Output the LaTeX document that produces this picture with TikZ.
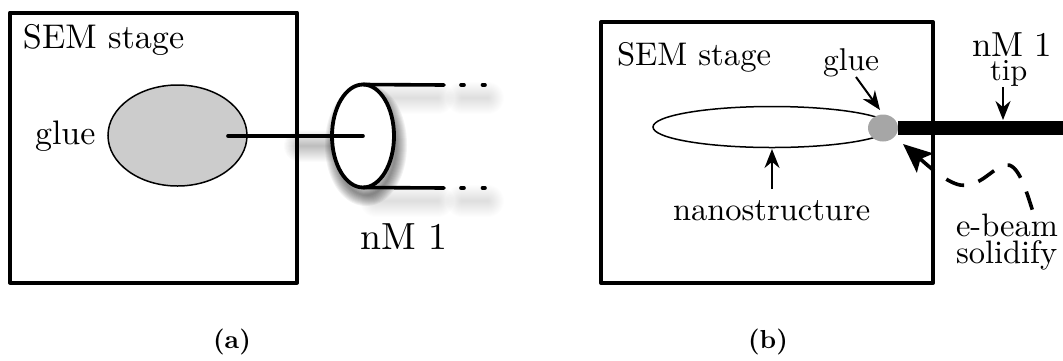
\documentclass[tikz,border=0pt]{standalone}
\usetikzlibrary{arrows.meta,shapes.geometric}
\newcommand{\softshadow}[1]{%
  \foreach \w in {2,4,...,32}{\draw[black,opacity=0.009,line width=\w pt,line cap=round] #1;}}
\tikzset{
  boxframe/.style={draw=black,line width=4pt,fill=none,line join=round,outer sep=0pt},
  probe/.style={draw=black,line width=3.6pt,line cap=round},
  txt/.style={inner sep=0pt,outer sep=0pt,anchor=base west},
  pointer/.style={draw=black,line width=2pt,-{Stealth[length=19pt,width=15pt]}},
}
\begin{document}
\begin{tikzpicture}[x=1pt,y=-1pt]
\useasboundingbox (0,0) rectangle (1063,360);
% (a)
\node[boxframe,minimum width=287pt,minimum height=270pt,inner sep=0pt] (boxa) at (153.5,147.5) {};
\node[txt,scale=3.42] (sema) at (23,48) {SEM stage};
\node[txt,scale=3.4] (gluea) at (35,144) {glue};
\node[draw=black,line width=1.5pt,fill=black!20,ellipse,inner sep=0pt,outer sep=0pt,minimum width=139pt,minimum height=101pt] (blob) at (177.5,135.5) {};
\softshadow{(300,146) -- (330,146)}
\softshadow{(300,146) -- (330,146)}
\softshadow{(376,98) -- (438,98)}
\softshadow{(376,201) -- (438,201)}
\softshadow{(462,98) -- (488,98)}
\softshadow{(462,201) -- (488,201)}
\foreach \w in {2,4,...,22}{\draw[black,opacity=0.05,line width=\w pt] (366,145) ellipse [x radius=30,y radius=50];}
\node[draw=black,line width=3.8pt,fill=white,ellipse,inner sep=0pt,outer sep=0pt,minimum width=62pt,minimum height=103pt] (ring) at (363,136) {};
\coordinate (ringc) at (363,136);
\coordinate (blobc) at (228,136);
\coordinate (ta1) at (444,85);
\coordinate (tb1) at (444,188);
\coordinate (ta2) at (461,85);
\coordinate (ta3) at (485,85);
\coordinate (tb2) at (461,188);
\coordinate (tb3) at (485,188);
\draw[probe] (blobc) -- (ringc);
\draw[probe] (ring.north) -- (ta1);
\draw[probe] (ring.south) -- (tb1);
\draw[probe,dash pattern=on 3pt off 18.5pt] (ta2) -- (ta3);
\draw[probe,dash pattern=on 3pt off 18.5pt] (tb2) -- (tb3);
\node[txt,scale=3.78] (nma) at (360,249) {nM 1};
\node[scale=2.6,font=\bfseries] (capa) at (232,342) {(a)};
% (b)
\node[boxframe,minimum width=332pt,minimum height=261pt,inner sep=0pt] (boxb) at (767,152.5) {};
\node[txt,scale=3.27] (semb) at (617,65) {SEM stage};
\node[draw=black,line width=1.5pt,fill=white,ellipse,inner sep=0pt,outer sep=0pt,minimum width=238pt,minimum height=41pt] (nano) at (772,127) {};
\node[draw=none,fill=black!35,ellipse,inner sep=0pt,outer sep=0pt,minimum width=30pt,minimum height=27pt] (drop) at (883,128) {};
\coordinate (tipend) at (1063,128);
\draw[line width=14.5pt,black] (drop.east) -- (tipend);
\node[txt,scale=3.15] (glueb) at (823,70) {glue};
\node[txt,scale=3.48] (nmb) at (972,56) {nM 1};
\node[txt,scale=3.05] (tipl) at (990,80) {tip};
\node[txt,scale=3.25] (nanol) at (673,220) {nanostructure};
\node[txt,scale=3.25] (ebeam) at (956,236) {e-beam};
\node[txt,scale=3.25] (solid) at (956,263) {solidify};
\coordinate (gluetip) at (880,110);
\coordinate (tiptip) at (1003,120);
\coordinate (nanotip) at (772,149);
\coordinate (beamtip) at (903,144);
\coordinate (beamend) at (1033,212);
\draw[pointer] (856,77) -- (gluetip);
\draw[pointer] (1003,87) -- (tiptip);
\draw[pointer] (772,189) -- (nanotip);
\draw[line width=3.6pt,dash pattern=on 19pt off 15pt,{Stealth[length=29pt,width=25pt,inset=6pt]}-] (beamtip) .. controls (925,163) and (945,182) .. (960,185) .. controls (980,188) and (992,168) .. (1005,165) .. controls (1018,162) and (1026,190) .. (beamend);
\node[scale=2.6,font=\bfseries] (capb) at (768,342) {(b)};
\end{tikzpicture}
\end{document}
